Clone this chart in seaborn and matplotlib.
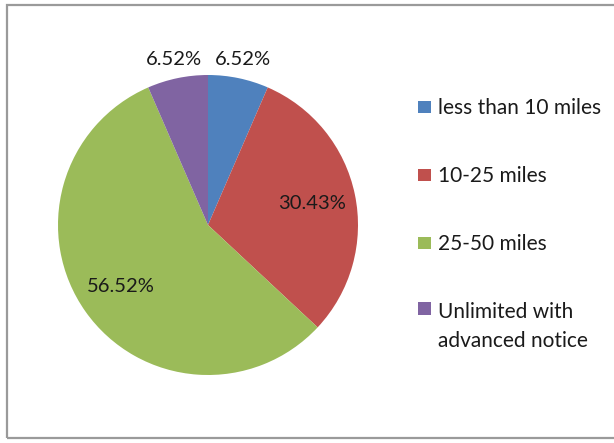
import matplotlib
matplotlib.use("Agg")
import matplotlib.pyplot as plt
import seaborn as sns
from matplotlib.patches import Rectangle
from matplotlib.legend_handler import HandlerPatch

categories = ["less than 10 miles", "10-25 miles", "25-50 miles", "Unlimited with\nadvanced notice"]
values = [6.52, 30.43, 56.52, 6.52]
colors = ["#4F81BD", "#C0504D", "#9BBB59", "#8064A2"]

sns.set_theme(style="white")
plt.rcParams['font.family'] = ['Lato', 'DejaVu Sans']

W, H = 614, 443
fig = plt.figure(figsize=(W / 100, H / 100), dpi=100)
fig.patch.set_facecolor("white")

cx, cy, R = 208, 225, 150
lim = 1.2
size = 2 * lim * R
ax = fig.add_axes([(cx - size / 2) / W, (H - cy - size / 2) / H, size / W, size / H])

labels_iter = iter(f"{v:.2f}%" for v in values)
PD = 0.71
wedges, texts, autotexts = ax.pie(
    values, colors=colors, startangle=90, counterclock=False,
    autopct=lambda p: next(labels_iter), pctdistance=PD,
    wedgeprops=dict(linewidth=0), textprops=dict(fontsize=14.5, color="#1a1a1a"))
for v, t in zip(values, autotexts):
    x, y = t.get_position()
    if v < 10:
        t.set_position((x / PD * 1.13, y / PD * 1.13))
ax.set_xlim(-lim, lim)
ax.set_ylim(-lim, lim)
ax.set_aspect("equal")
ax.axis("off")

LEG_FS = 15


class SquareHandler(HandlerPatch):
    def __init__(self, shift=0.0, **kw):
        super().__init__(**kw)
        self.shift = shift

    def create_artists(self, legend, orig_handle, xdescent, ydescent,
                       width, height, fontsize, trans):
        s = min(width, height)
        p = Rectangle((-xdescent, -ydescent + (height - s) / 2 + self.shift), s, s,
                      facecolor=orig_handle.get_facecolor(), edgecolor="none",
                      transform=trans)
        return [p]


handler_map = {w: SquareHandler(shift=(13.5 if "\n" in c else 0.0))
               for w, c in zip(wedges, categories)}

leg = fig.legend(wedges, categories, loc="upper left",
                 bbox_to_anchor=(408 / W, 1 - 88 / H), frameon=False,
                 fontsize=LEG_FS, handlelength=0.6, handleheight=0.6,
                 handletextpad=0.35, labelspacing=2.3, borderpad=0,
                 handler_map=handler_map)
for t in leg.get_texts():
    t.set_color("#1a1a1a")
    t.set_linespacing(1.53)

frame = Rectangle((6.5, H - 437.5), 700, 433, transform=None, fill=False,
                  edgecolor="#9a9a9a", linewidth=1.6)
fig.add_artist(frame)

fig.savefig("out.png", dpi=100, facecolor="white")
